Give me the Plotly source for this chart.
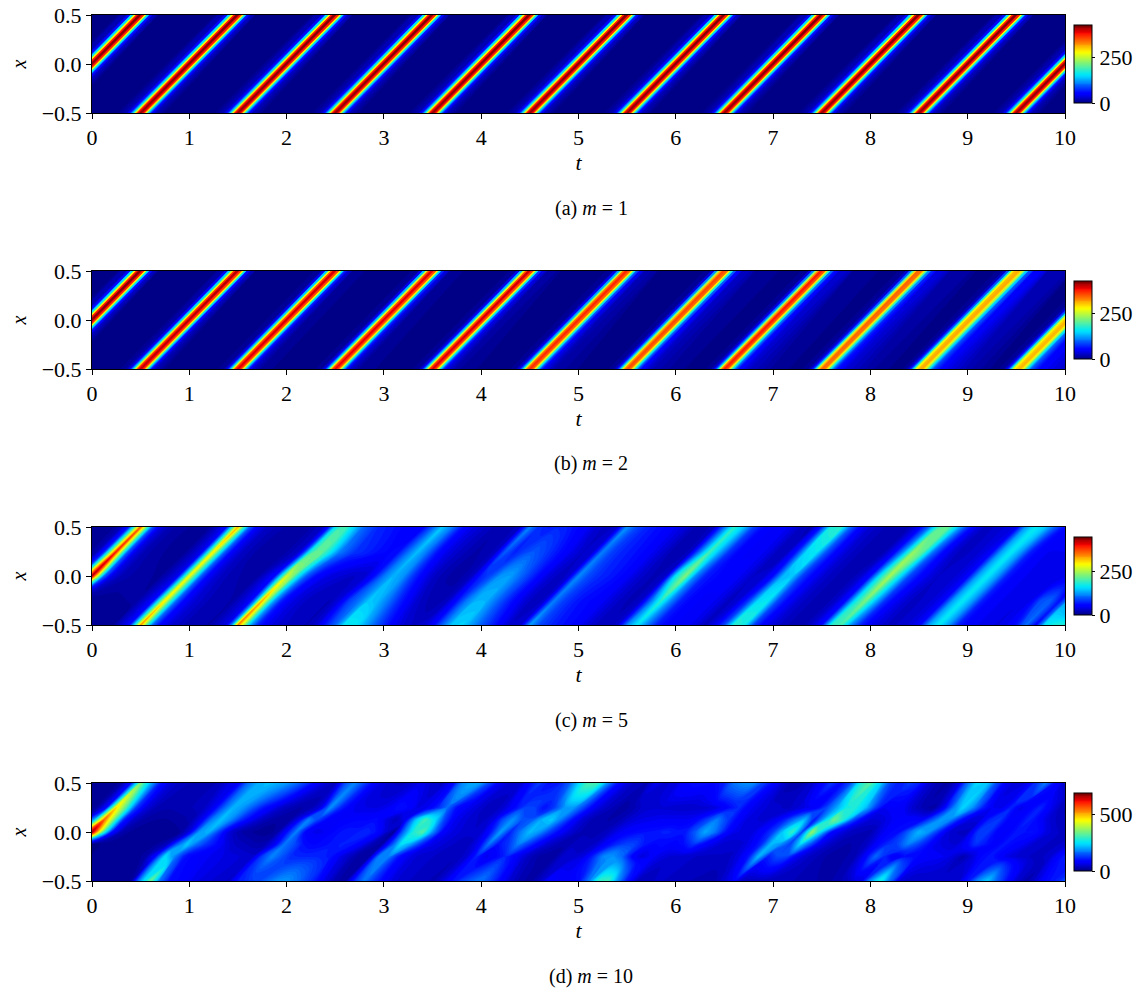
# plot.py - four space-time maps, m = 1, 2, 5, 10
import plotly.graph_objects as go

# offsets across one ridge, measured in t at fixed x
RIDGE_OFFSETS = [-0.5, -0.25, -0.15, -0.11, -0.075, -0.05, -0.03, 0.0, 0.03, 0.05, 0.075, 0.11, 0.15, 0.25]
RIDGES = list(range(0, 11))

# m = 1, same cross-section for each ridge
M1_CROSS = [1, 3, 20, 58, 155, 275, 375, 420, 375, 275, 155, 60, 22, 4]

# m = 2, one cross-section per ridge
M2_CROSS = [
    [1, 3, 20, 58, 155, 275, 375, 420, 375, 275, 155, 60, 22, 4],
    [1, 2, 12, 45, 145, 265, 365, 405, 365, 275, 155, 58, 22, 5],
    [1, 2, 10, 42, 140, 260, 355, 395, 360, 280, 160, 65, 28, 8],
    [2, 2, 10, 40, 135, 255, 350, 390, 355, 285, 165, 72, 32, 10],
    [3, 2, 10, 40, 135, 255, 355, 395, 360, 285, 170, 75, 35, 12],
    [4, 2, 10, 38, 125, 240, 335, 370, 345, 280, 175, 85, 42, 16],
    [5, 2, 8, 34, 115, 225, 315, 355, 340, 285, 185, 95, 50, 22],
    [7, 2, 8, 32, 110, 225, 325, 375, 350, 290, 190, 100, 55, 28],
    [9, 3, 8, 30, 100, 205, 295, 340, 335, 295, 205, 115, 65, 32],
    [12, 3, 6, 26, 90, 180, 265, 305, 310, 295, 235, 145, 85, 45],
    [18, 4, 6, 24, 85, 170, 255, 295, 305, 300, 250, 160, 95, 50],
]

# m = 5, read along five x levels; t - x in U_M5
U_M5 = [
    -0.56, -0.3, -0.2, -0.12, -0.06, 0.0, 0.06, 0.12, 0.2, 0.3, 0.45, 0.7,
    0.88, 0.94, 1.0, 1.06, 1.12, 1.2, 1.3, 1.45, 1.7,
    1.88, 1.94, 2.0, 2.06, 2.12, 2.2, 2.3, 2.45, 2.7,
    2.8, 2.9,
    3.0, 3.1, 3.2, 3.3, 3.4, 3.5, 3.6, 3.7, 3.8, 3.9,
    4.0, 4.1, 4.2, 4.3, 4.4, 4.5, 4.6, 4.7, 4.8, 4.9,
    5.0, 5.1, 5.2, 5.3, 5.4, 5.5, 5.6, 5.7, 5.8, 5.9,
    6.0, 6.1, 6.2, 6.3, 6.4, 6.5, 6.6, 6.7, 6.8, 6.9,
    7.0, 7.1, 7.2, 7.3, 7.4, 7.5, 7.6, 7.7, 7.8, 7.9,
    8.0, 8.1, 8.2, 8.3, 8.4, 8.5, 8.6, 8.7, 8.8, 8.9,
    9.0, 9.1, 9.2, 9.3, 9.4, 9.5, 9.6, 9.7, 9.8, 9.9,
    10.0, 10.1, 10.2, 10.3, 10.4, 10.56,
]
M5_BOTTOM = [
    5, 5, 5, 5, 5, 5, 5, 5, 5, 5, 6, 8,
    55, 170, 345, 210, 105, 55, 35, 22, 16,
    40, 130, 355, 250, 145, 75, 45, 30, 22,
    30, 65,
    100, 170, 170, 140, 105, 75, 50, 35, 28, 30,
    50, 100, 150, 155, 130, 100, 75, 50, 30, 30,
    130, 90, 75, 65, 58, 50, 35, 25, 25, 30,
    120, 165, 115, 70, 55, 50, 50, 40, 25, 45,
    90, 190, 180, 85, 50, 35, 25, 20, 18, 32,
    60, 190, 200, 120, 70, 45, 35, 25, 30, 35,
    50, 130, 170, 130, 70, 50, 45, 42, 38, 45,
    60, 110, 50, 170, 190, 190,
]
M5_LOW = [
    5, 5, 5, 5, 5, 5, 5, 5, 6, 8, 10, 12,
    55, 170, 300, 195, 105, 55, 35, 22, 16,
    50, 140, 330, 225, 135, 70, 42, 28, 22,
    40, 85,
    110, 150, 140, 110, 75, 50, 30, 22, 18, 25,
    60, 110, 140, 140, 110, 80, 55, 35, 22, 30,
    115, 85, 70, 60, 55, 48, 35, 25, 20, 30,
    110, 190, 120, 70, 55, 50, 50, 40, 25, 35,
    80, 160, 170, 90, 55, 35, 25, 20, 18, 30,
    60, 170, 230, 150, 80, 50, 35, 25, 30, 35,
    50, 130, 170, 130, 70, 48, 45, 42, 40, 45,
    90, 100, 60, 130, 90, 60,
]
M5_MID = [
    5, 8, 25, 85, 260, 435, 260, 110, 42, 22, 14, 10,
    45, 150, 290, 190, 100, 50, 30, 18, 14,
    60, 160, 270, 235, 170, 100, 60, 38, 28,
    30, 60,
    110, 140, 125, 80, 50, 30, 20, 15, 16, 25,
    70, 90, 125, 130, 105, 80, 55, 35, 25, 30,
    120, 90, 75, 68, 60, 50, 35, 25, 20, 30,
    170, 230, 120, 70, 58, 52, 52, 42, 28, 30,
    60, 140, 150, 85, 55, 35, 25, 20, 18, 30,
    60, 170, 250, 170, 90, 60, 40, 28, 30, 35,
    50, 130, 170, 130, 70, 50, 45, 42, 40, 40,
    40, 40, 40, 40, 40, 40,
]
M5_HIGH = [
    5, 8, 20, 75, 220, 400, 230, 100, 40, 20, 12, 8,
    45, 150, 300, 190, 100, 48, 28, 16, 12,
    30, 85, 185, 215, 215, 175, 115, 80, 60,
    55, 60,
    105, 145, 110, 65, 42, 30, 22, 16, 18, 25,
    100, 70, 85, 95, 85, 70, 55, 40, 28, 30,
    115, 85, 72, 65, 58, 48, 35, 22, 18, 25,
    110, 200, 140, 80, 55, 50, 50, 42, 25, 25,
    70, 160, 170, 95, 55, 35, 25, 20, 18, 22,
    50, 130, 240, 210, 110, 60, 35, 22, 30, 35,
    50, 130, 170, 130, 70, 50, 45, 45, 45, 45,
    45, 45, 45, 45, 45, 45,
]
M5_TOP = [
    5, 8, 22, 70, 200, 365, 220, 95, 40, 20, 12, 8,
    55, 175, 330, 200, 100, 48, 28, 18, 12,
    30, 70, 165, 200, 195, 150, 100, 72, 55,
    50, 50,
    95, 150, 115, 65, 42, 32, 24, 18, 20, 25,
    120, 75, 65, 70, 65, 55, 45, 30, 25, 30,
    125, 90, 72, 62, 55, 45, 35, 22, 18, 28,
    105, 190, 150, 85, 58, 50, 50, 40, 25, 20,
    70, 185, 190, 100, 52, 32, 25, 20, 18, 22,
    45, 100, 200, 220, 150, 80, 40, 25, 30, 35,
    40, 130, 170, 150, 100, 60, 50, 50, 50, 50,
    50, 50, 50, 50, 50, 50,
]

# m = 10, read along seven x levels; t - x from -0.5 to 10.5 in steps of 0.1
M10_BOTTOM = [
    8, 8, 8, 8, 8,
    8, 8, 8, 8, 8, 10, 10, 10, 10, 12,
    200, 350, 170, 95, 85, 70, 58, 52, 48, 42,
    100, 115, 130, 160, 190, 195, 170, 135, 100, 60,
    30, 20, 110, 170, 120, 80, 55, 45, 42, 40,
    30, 55, 90, 130, 155, 170, 130, 85, 50, 30,
    22, 40, 90, 75, 75, 85, 160, 300, 320, 200,
    100, 40, 35, 45, 42, 38, 35, 32, 30, 30,
    50, 70, 35, 30, 32, 35, 40, 35, 30, 28,
    25, 25, 30, 40, 60, 200, 290, 170, 55, 42,
    42, 48, 50, 45, 42, 100, 190, 240, 160, 100,
    50, 25, 50, 85, 105, 150,
]
M10_LOW = [
    8, 8, 8, 8, 8,
    8, 8, 8, 10, 12, 12, 13, 14, 20, 90,
    250, 180, 100, 80, 75, 65, 60, 55, 50, 45,
    130, 180, 145, 115, 110, 110, 108, 100, 65, 40,
    20, 20, 180, 180, 100, 65, 50, 48, 40, 35,
    35, 50, 110, 65, 85, 110, 80, 50, 28, 22,
    20, 50, 45, 60, 110, 180, 190, 160, 85, 55,
    75, 60, 50, 48, 45, 42, 42, 42, 40, 60,
    100, 220, 110, 140, 130, 70, 45, 35, 25, 20,
    25, 35, 80, 160, 110, 70, 95, 90, 80, 75,
    70, 55, 30, 55, 90, 100, 75, 55, 48, 42,
    40, 50, 90, 110, 100, 90,
]
M10_LOWER_MID = [
    8, 8, 8, 8, 8,
    8, 8, 8, 12, 14, 14, 14, 14, 18, 40,
    150, 230, 165, 120, 90, 60, 42, 35, 28, 30,
    70, 170, 140, 95, 85, 90, 100, 105, 100, 70,
    35, 20, 130, 250, 200, 120, 65, 55, 45, 40,
    40, 70, 170, 95, 120, 175, 130, 85, 50, 35,
    28, 40, 38, 45, 80, 110, 130, 130, 100, 85,
    90, 80, 90, 120, 90, 65, 50, 48, 50, 70,
    110, 220, 190, 130, 240, 150, 70, 45, 30, 25,
    28, 45, 85, 115, 130, 175, 140, 100, 65, 55,
    50, 75, 120, 100, 75, 100, 85, 70, 50, 45,
    40, 45, 60, 70, 70, 70,
]
M10_MID = [
    8, 8, 10, 80, 320,
    680, 350, 100, 30, 15, 12, 10, 10, 12, 15,
    60, 195, 215, 130, 60, 30, 20, 14, 12, 20,
    90, 180, 80, 65, 70, 90, 100, 100, 110, 100,
    60, 15, 160, 280, 320, 190, 80, 60, 50, 45,
    48, 100, 200, 110, 170, 220, 190, 130, 85, 55,
    35, 32, 30, 40, 65, 80, 90, 95, 100, 108,
    100, 100, 150, 205, 170, 100, 62, 58, 60, 85,
    130, 230, 300, 130, 370, 230, 90, 60, 40, 35,
    30, 60, 85, 95, 160, 215, 190, 115, 55, 42,
    40, 120, 130, 85, 75, 100, 95, 95, 60, 45,
    40, 40, 40, 35, 35, 35,
]
M10_UPPER_MID = [
    8, 8, 8, 50, 220,
    560, 340, 110, 45, 25, 18, 16, 18, 22, 30,
    70, 170, 225, 185, 120, 75, 45, 28, 20, 18,
    70, 180, 130, 80, 75, 80, 85, 85, 90, 60,
    35, 70, 220, 310, 250, 130, 70, 55, 45, 40,
    60, 140, 190, 140, 150, 215, 230, 170, 100, 55,
    35, 28, 25, 32, 50, 60, 65, 70, 70, 70,
    70, 90, 130, 175, 130, 85, 60, 52, 50, 70,
    110, 170, 220, 100, 220, 340, 280, 140, 70, 50,
    55, 70, 85, 85, 80, 140, 200, 180, 100, 55,
    55, 110, 125, 80, 80, 110, 85, 55, 40, 35,
    35, 35, 35, 35, 35, 35,
]
M10_HIGH = [
    8, 8, 8, 20, 90,
    470, 320, 130, 60, 35, 28, 28, 32, 35, 40,
    70, 150, 215, 195, 150, 105, 75, 45, 32, 25,
    30, 60, 190, 115, 75, 62, 60, 60, 70, 95,
    85, 60, 70, 110, 165, 95, 72, 55, 40, 35,
    55, 90, 130, 130, 95, 125, 190, 195, 135, 75,
    48, 35, 22, 28, 45, 50, 50, 48, 45, 45,
    48, 50, 65, 90, 115, 75, 60, 50, 45, 40,
    50, 65, 80, 135, 200, 270, 280, 225, 130, 70,
    78, 70, 45, 30, 20, 70, 170, 240, 190, 110,
    70, 65, 110, 65, 80, 110, 70, 40, 30, 30,
    30, 30, 30, 30, 30, 30,
]
M10_TOP = [
    10, 10, 12, 20, 90,
    340, 210, 100, 55, 40, 35, 33, 33, 35, 60,
    70, 160, 205, 220, 215, 200, 170, 130, 85, 55,
    40, 140, 180, 130, 80, 55, 42, 40, 50, 60,
    45, 40, 80, 180, 210, 200, 130, 70, 50, 50,
    90, 130, 90, 100, 150, 240, 320, 310, 190, 100,
    60, 35, 35, 70, 50, 55, 85, 95, 95, 90,
    110, 175, 195, 190, 130, 90, 50, 25, 30, 50,
    80, 125, 90, 140, 280, 330, 230, 130, 100, 130,
    110, 50, 30, 20, 60, 170, 250, 230, 130, 70,
    50, 60, 120, 180, 90, 40, 35, 35, 35, 35,
    35, 35, 35, 35, 35, 35,
]
U_M10 = [round(-0.5 + 0.1 * i, 1) for i in range(111)]

X_TWO = [-0.52, 0.52]
X_FIVE = [-0.52, -0.25, 0.0, 0.25, 0.52]
X_SEVEN = [-0.52, -0.25, -0.125, 0.0, 0.125, 0.25, 0.52]
CBAR_MAX = [424, 424, 450, 690]
CBAR_TICKS = [[0, 250], [0, 250], [0, 250], [0, 500]]
CAPTIONS = ["(a) <i>m</i> = 1", "(b) <i>m</i> = 2", "(c) <i>m</i> = 5", "(d) <i>m</i> = 10"]

JET = [
    [0.0, "rgb(0,0,128)"], [0.11, "rgb(0,0,255)"], [0.125, "rgb(0,0,255)"],
    [0.35, "rgb(0,219,255)"], [0.375, "rgb(2,232,244)"], [0.64, "rgb(247,255,0)"],
    [0.66, "rgb(255,240,0)"], [0.89, "rgb(255,18,0)"], [0.91, "rgb(232,0,0)"], [1.0, "rgb(128,0,0)"],
]

# the page has an 8 px body margin, so the figure starts at (8, 8) in the window
W, H = 1134, 983
TOPS = [15, 271, 527, 783]
PLOT_H = 98
MARGIN = dict(l=84, r=77, t=7, b=110)
AREA_W = W - MARGIN["l"] - MARGIN["r"]
AREA_H = H - MARGIN["t"] - MARGIN["b"]
FONT = "Liberation Serif"


def ridge_field(cross_rows):
    u = []
    row = []
    for k, cross in zip(RIDGES, cross_rows):
        u += [k + o for o in RIDGE_OFFSETS]
        row += cross
    u = [-0.56] + u + [11.0]
    row = [0] + row + [0]
    return u, X_TWO, [row, row]


fields = [
    ridge_field([M1_CROSS] * 11),
    ridge_field(M2_CROSS),
    (U_M5, X_FIVE, [M5_BOTTOM, M5_LOW, M5_MID, M5_HIGH, M5_TOP]),
    (U_M10, X_SEVEN, [M10_BOTTOM, M10_LOW, M10_LOWER_MID, M10_MID, M10_UPPER_MID, M10_HIGH, M10_TOP]),
]


def frac_x(px):
    return (px - 92) / AREA_W


def frac_y(py):
    return 1 - (py - 15) / AREA_H


fig = go.Figure()
for i, (u, levels, z) in enumerate(fields):
    n = "" if i == 0 else str(i + 1)
    top = TOPS[i]
    carpet = f"c{i}"
    fig.add_trace(go.Carpet(
        carpet=carpet, a=u, b=levels,
        x=[[a + b for a in u] for b in levels],
        y=[[b for a in u] for b in levels],
        xaxis=f"x{n}", yaxis=f"y{n}",
        aaxis=dict(showgrid=False, startline=False, endline=False, showticklabels="none", minorgridcount=0),
        baxis=dict(showgrid=False, startline=False, endline=False, showticklabels="none", minorgridcount=0),
    ))
    fig.add_trace(go.Contourcarpet(
        carpet=carpet, a=u, b=levels, z=z, xaxis=f"x{n}", yaxis=f"y{n}",
        colorscale=JET, zmin=0, zmax=CBAR_MAX[i], autocontour=False,
        contours=dict(start=0, end=CBAR_MAX[i], size=CBAR_MAX[i] / 80, coloring="fill", showlines=False),
        line=dict(width=0),
        colorbar=dict(
            x=frac_x(1074), xanchor="left", y=frac_y(top + 10), yanchor="top",
            len=78 / AREA_H, lenmode="fraction", thickness=18, thicknessmode="pixels",
            outlinewidth=1, outlinecolor="black", tickvals=CBAR_TICKS[i], ticks="outside", ticklen=3,
            tickcolor="black", tickfont=dict(family=FONT, size=22, color="black"), xpad=0, ypad=0,
        ),
    ))
    axis = dict(showline=True, linecolor="black", linewidth=1, mirror=True, ticks="outside", ticklen=5,
                tickcolor="black", showgrid=False, zeroline=False, automargin=False, ticklabeloverflow="allow",
                tickfont=dict(family=FONT, size=22, color="black"))
    fig.update_layout({
        f"xaxis{n}": dict(axis, domain=[0, 1], range=[0, 10], tickvals=list(range(11)), anchor=f"y{n}",
                          title=dict(text="<i>t</i>", font=dict(family=FONT, size=22, color="black"), standoff=0)),
        f"yaxis{n}": dict(axis, domain=[frac_y(top + PLOT_H), frac_y(top)], range=[-0.5, 0.5],
                          tickvals=[-0.5, 0, 0.5], ticktext=["\u22120.5", "0.0", "0.5"], anchor=f"x{n}",
                          title=dict(text="<i>x</i>", font=dict(family=FONT, size=20, color="black"), standoff=22)),
    })
    fig.add_annotation(text=CAPTIONS[i], xref="paper", yref="paper", x=frac_x(591), xanchor="center",
                       y=frac_y(top + 193), yanchor="middle", showarrow=False,
                       font=dict(family=FONT, size=20, color="black"))

fig.update_layout(width=W, height=H, margin=MARGIN, paper_bgcolor="white",
                  plot_bgcolor="white", showlegend=False)
fig.write_html("out.html")
